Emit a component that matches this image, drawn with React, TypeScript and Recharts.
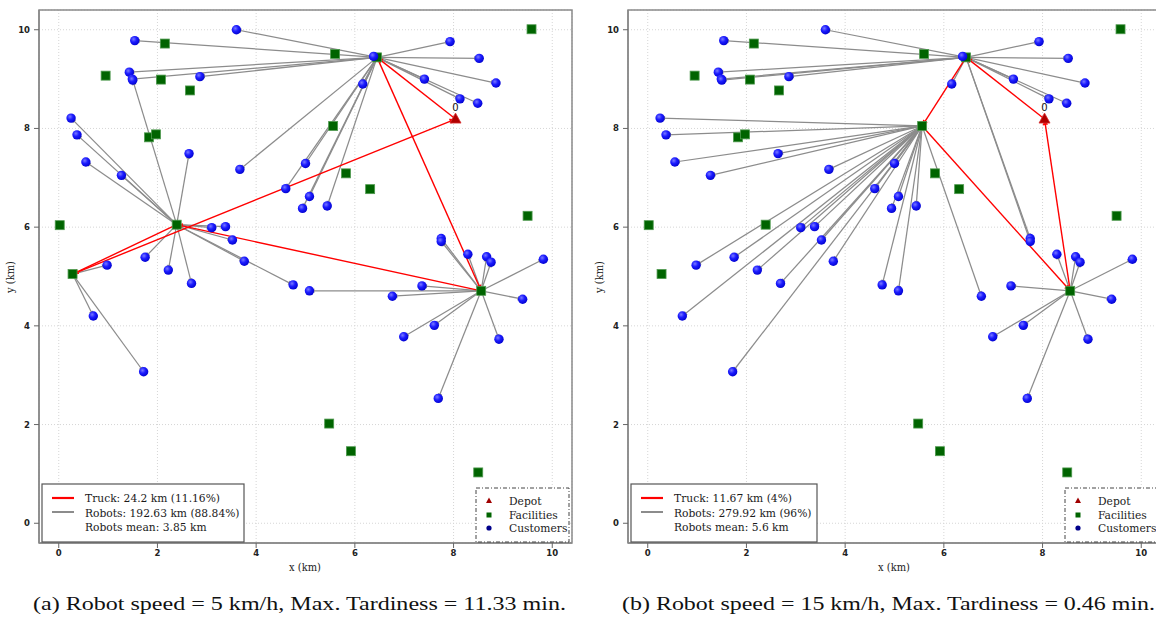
import React from 'react';
import {
  ScatterChart,
  Scatter,
  XAxis,
  YAxis,
  CartesianGrid,
  ReferenceLine,
  ReferenceArea,
  LabelList,
} from 'recharts';

// ---------- data ----------
const customers = [
  { x: 3.6, y: 10.0 }, { x: 1.54, y: 9.78 }, { x: 1.43, y: 9.14 }, { x: 1.49, y: 9.0 },
  { x: 2.86, y: 9.05 }, { x: 0.25, y: 8.21 }, { x: 0.37, y: 7.87 }, { x: 0.55, y: 7.32 },
  { x: 1.27, y: 7.05 }, { x: 2.64, y: 7.49 }, { x: 3.67, y: 7.17 }, { x: 5.0, y: 7.29 },
  { x: 4.6, y: 6.78 }, { x: 5.08, y: 6.62 }, { x: 4.94, y: 6.38 }, { x: 5.44, y: 6.43 },
  { x: 3.1, y: 5.99 }, { x: 3.38, y: 6.01 }, { x: 3.52, y: 5.74 }, { x: 3.76, y: 5.31 },
  { x: 1.75, y: 5.39 }, { x: 0.98, y: 5.23 }, { x: 2.22, y: 5.13 }, { x: 2.69, y: 4.86 },
  { x: 0.7, y: 4.2 }, { x: 1.72, y: 3.07 }, { x: 4.75, y: 4.83 }, { x: 5.08, y: 4.71 },
  { x: 7.93, y: 9.76 }, { x: 8.52, y: 9.42 }, { x: 8.86, y: 8.92 }, { x: 7.41, y: 9.0 },
  { x: 8.13, y: 8.6 }, { x: 8.49, y: 8.51 }, { x: 6.16, y: 8.9 }, { x: 6.38, y: 9.46 },
  { x: 7.75, y: 5.77 }, { x: 7.75, y: 5.71 }, { x: 8.29, y: 5.45 }, { x: 8.67, y: 5.4 },
  { x: 8.76, y: 5.29 }, { x: 9.82, y: 5.35 }, { x: 6.76, y: 4.6 }, { x: 7.36, y: 4.81 },
  { x: 9.4, y: 4.54 }, { x: 7.61, y: 4.01 }, { x: 6.99, y: 3.78 }, { x: 8.92, y: 3.73 },
  { x: 7.69, y: 2.53 }, { x: 1.5, y: 8.98 },
];

const facilities = [
  { x: 2.15, y: 9.72 }, { x: 0.95, y: 9.07 }, { x: 2.07, y: 8.99 }, { x: 2.66, y: 8.77 },
  { x: 1.83, y: 7.82 }, { x: 1.97, y: 7.88 }, { x: 0.02, y: 6.04 }, { x: 2.39, y: 6.05 },
  { x: 0.28, y: 5.05 }, { x: 5.6, y: 9.51 }, { x: 6.45, y: 9.44 }, { x: 9.58, y: 10.01 },
  { x: 5.56, y: 8.05 }, { x: 5.82, y: 7.09 }, { x: 6.31, y: 6.77 }, { x: 9.5, y: 6.23 },
  { x: 5.48, y: 2.02 }, { x: 5.92, y: 1.46 }, { x: 8.5, y: 1.03 }, { x: 8.56, y: 4.71 },
];

const depot = [{ x: 8.04, y: 8.19, label: '0' }];

// facility index serving each customer (robots)
const assignA = [
  10, 10, 10, 10, 10, 7, 7, 7, 7, 7, 10, 10, 10, 10, 10, 10,
  7, 7, 7, 7, 7, 8, 7, 7, 8, 8, 7, 19,
  10, 10, 10, 10, 10, 10, 10, 10,
  19, 19, 19, 19, 19, 19, 19, 19, 19, 19, 19, 19, 19, 7,
];
const assignB = [
  10, 10, 10, 10, 10, 12, 12, 12, 12, 12, 12, 12, 12, 12, 12, 12,
  12, 12, 12, 12, 12, 12, 12, 12, 12, 12, 12, 12,
  10, 10, 10, 10, 10, 10, 10, 10,
  10, 10, 19, 19, 19, 19, 12, 19, 19, 19, 19, 19, 19, 10,
];

// truck routes (-1 = depot, otherwise facility index)
const routeA = [-1, 10, 19, 7, 8, -1];
const routeB = [-1, 10, 12, 19, -1];

const axisTicks = [0, 2, 4, 6, 8, 10];

const legendA = ['Truck: 24.2 km (11.16%)', 'Robots: 192.63 km (88.84%)', 'Robots mean: 3.85 km'];
const legendB = ['Truck: 11.67 km (4%)', 'Robots: 279.92 km (96%)', 'Robots mean: 5.6 km'];
const markerLegend = ['Depot', 'Facilities', 'Customers'];
const captionA = '(a) Robot speed = 5 km/h, Max. Tardiness = 11.33 min.';
const captionB = '(b) Robot speed = 15 km/h, Max. Tardiness = 0.46 min.';
const axisTitles = ['x (km)', 'y (km)'];

// ---------- shapes ----------
const CustomerShape = (p: any) => {
  const { cx, cy } = p;
  if (typeof cx !== 'number' || typeof cy !== 'number') return <g />;
  return <circle cx={cx} cy={cy} r={4.7} fill="url(#custGrad)" />;
};

const FacilityShape = (p: any) => {
  const { cx, cy } = p;
  if (typeof cx !== 'number' || typeof cy !== 'number') return <g />;
  return (
    <rect x={cx - 4.5} y={cy - 4.5} width={9} height={9} fill="#006400" stroke="#4f9a4f" strokeWidth={0.8} />
  );
};

const DepotShape = (p: any) => {
  const { cx, cy } = p;
  if (typeof cx !== 'number' || typeof cy !== 'number') return <g />;
  return (
    <polygon
      points={`${cx},${cy - 6} ${cx - 5.5},${cy + 4} ${cx + 5.5},${cy + 4}`}
      fill="#b00000"
      stroke="#d83030"
      strokeWidth={0.8}
    />
  );
};

const arrowLine = (color: string, width: number, head: number) => (props: any) => {
  const { x1, y1, x2, y2 } = props;
  if ([x1, y1, x2, y2].some((v) => typeof v !== 'number' || isNaN(v))) return <g />;
  const dx = x2 - x1;
  const dy = y2 - y1;
  const len = Math.hypot(dx, dy) || 1;
  const ux = dx / len;
  const uy = dy / len;
  const bx = x2 - ux * head;
  const by = y2 - uy * head;
  const px = -uy * head * 0.45;
  const py = ux * head * 0.45;
  return (
    <g>
      <line x1={x1} y1={y1} x2={x2} y2={y2} stroke={color} strokeWidth={width} />
      <polygon points={`${x2},${y2} ${bx + px},${by + py} ${bx - px},${by - py}`} fill={color} />
    </g>
  );
};

const grayArrow = arrowLine('#8c8c8c', 1.25, 5);
const redArrow = arrowLine('#ff0000', 1.4, 6);

const nodeOf = (i: number) => (i < 0 ? depot[0] : facilities[i]);

const tickStyle = { fontSize: 8.5, fill: '#222', fontFamily: 'DejaVu Sans', fontWeight: 'bold' as const };

function Panel({ assign, route }: { assign: number[]; route: number[] }) {
  const segs: { a: any; b: any }[] = [];
  for (let i = 0; i < route.length - 1; i++) segs.push({ a: nodeOf(route[i]), b: nodeOf(route[i + 1]) });
  return (
    <ScatterChart width={580} height={580} margin={{ top: 10, right: 8, bottom: 0, left: 0 }}>
      <CartesianGrid stroke="#d6d6d6" strokeDasharray="1 2" />
      <XAxis
        type="number"
        dataKey="x"
        domain={[-0.4, 10.4]}
        ticks={axisTicks}
        allowDataOverflow
        interval={0}
        height={37}
        tickSize={5}
        tick={tickStyle}
        axisLine={{ stroke: '#888', strokeWidth: 1.5 }}
        tickLine={{ stroke: '#666' }}
      />
      <YAxis
        type="number"
        dataKey="y"
        domain={[-0.4, 10.4]}
        ticks={axisTicks}
        allowDataOverflow
        interval={0}
        width={39}
        tickSize={5}
        tickMargin={4}
        tick={tickStyle}
        axisLine={{ stroke: '#888', strokeWidth: 1.5 }}
        tickLine={{ stroke: '#666' }}
      />
      <ReferenceArea x1={-0.4} x2={10.4} y1={-0.4} y2={10.4} fill="none" fillOpacity={0} stroke="#8a8a8a" strokeWidth={1.5} />
      <Scatter data={facilities} shape={FacilityShape} isAnimationActive={false} />
      <Scatter data={customers} shape={CustomerShape} isAnimationActive={false} />
      <Scatter data={depot} shape={DepotShape} isAnimationActive={false}>
        <LabelList dataKey="label" position="top" offset={4} style={{ fontSize: 10, fill: '#111', fontFamily: 'DejaVu Sans' }} />
      </Scatter>
      {customers.map((c, i) => {
        const f = facilities[assign[i]];
        return (
          <ReferenceLine
            key={`r${i}`}
            segment={[{ x: f.x, y: f.y }, { x: c.x, y: c.y }]}
            stroke="#8c8c8c"
            shape={grayArrow}
          />
        );
      })}
      {segs.map((s, i) => (
        <ReferenceLine
          key={`t${i}`}
          segment={[{ x: s.a.x, y: s.a.y }, { x: s.b.x, y: s.b.y }]}
          stroke="#ff0000"
          shape={redArrow}
        />
      ))}
    </ScatterChart>
  );
}

const serif = "'DejaVu Serif', serif";
const legendFont = 11.9;

function Overlay({ dx, legend, caption }: { dx: number; legend: string[]; caption: string }) {
  return (
    <g transform={`translate(${dx},0)`}>
      {/* line legend */}
      <rect x={42} y={484} width={dx ? 186 : 202} height={58} fill="#fff" stroke="#555" strokeWidth={1.2} />
      <line x1={52} x2={74} y1={498} y2={498} stroke="#ff0000" strokeWidth={2.2} />
      <line x1={52} x2={74} y1={512} y2={512} stroke="#8c8c8c" strokeWidth={2} />
      {legend.map((t, i) => (
        <text
          key={i}
          x={85}
          y={498 + i * 14.5}
          dominantBaseline="central"
          fontFamily={serif}
          fontSize={legendFont}
          fontStretch="condensed"
          fill="#1a1a1a"
        >
          {t}
        </text>
      ))}
      {/* marker legend */}
      <rect x={476} y={488} width={93} height={54} fill="#fff" stroke="#444" strokeWidth={1} strokeDasharray="4 2 1 2" />
      <polygon points="489,497.5 486,503 492,503" fill="#a00000" />
      <rect x={486.5} y={512.5} width={5} height={5} fill="#006400" />
      <circle cx={489} cy={528} r={2.6} fill="#00008b" />
      {markerLegend.map((t, i) => (
        <text
          key={i}
          x={509}
          y={501 + i * 13.5}
          dominantBaseline="central"
          fontFamily={serif}
          fontSize={legendFont}
          fontStretch="condensed"
          fill="#1a1a1a"
        >
          {t}
        </text>
      ))}
      {/* axis titles */}
      <text x={305} y={567} textAnchor="middle" dominantBaseline="central" fontFamily={serif} fontSize={11} fontStretch="condensed" fill="#222">
        {axisTitles[0]}
      </text>
      <text
        x={10}
        y={277}
        textAnchor="middle"
        dominantBaseline="central"
        fontFamily={serif}
        fontSize={11}
        fontStretch="condensed"
        fill="#222"
        transform={`rotate(-90,10,277)`}
      >
        {axisTitles[1]}
      </text>
      {/* caption */}
      <text
        x={33}
        y={603}
        dominantBaseline="central"
        fontFamily="'Liberation Serif', serif"
        fontSize={19}
        fill="#111"
        textLength={533}
        lengthAdjust="spacingAndGlyphs"
      >
        {caption}
      </text>
    </g>
  );
}

export default function App() {
  return (
    <div
      style={{
        position: 'absolute',
        left: 0,
        top: 0,
        width: 1156,
        height: 617,
        overflow: 'hidden',
        background: '#fff',
      }}
    >
      <svg width={0} height={0} style={{ position: 'absolute' }}>
        <defs>
          <radialGradient id="custGrad" cx="0.38" cy="0.35" r="0.7">
            <stop offset="0%" stopColor="#7878ff" />
            <stop offset="45%" stopColor="#1c1cff" />
            <stop offset="100%" stopColor="#0000cc" />
          </radialGradient>
        </defs>
      </svg>
      <div style={{ position: 'absolute', left: 0, top: 0 }}>
        <Panel assign={assignA} route={routeA} />
      </div>
      <div style={{ position: 'absolute', left: 589, top: 0 }}>
        <Panel assign={assignB} route={routeB} />
      </div>
      <svg width={1156} height={617} style={{ position: 'absolute', left: 0, top: 0, pointerEvents: 'none' }}>
        <Overlay dx={0} legend={legendA} caption={captionA} />
        <Overlay dx={589} legend={legendB} caption={captionB} />
      </svg>
    </div>
  );
}
